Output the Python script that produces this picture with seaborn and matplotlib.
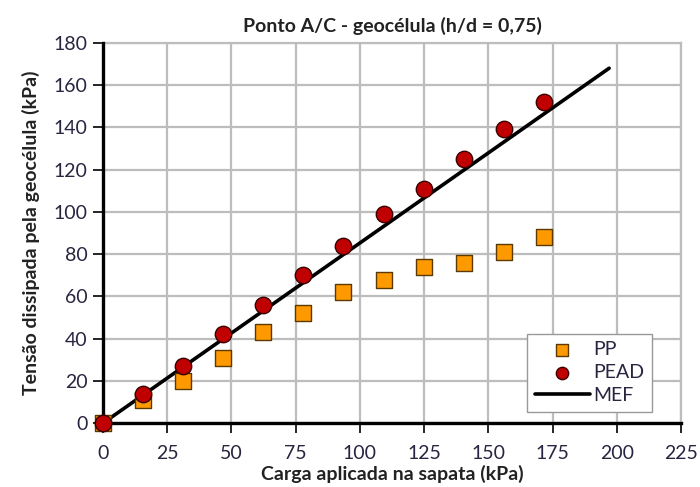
import matplotlib
matplotlib.use("Agg")
import matplotlib.pyplot as plt
import seaborn as sns
import pandas as pd

# Applied load on the footing (kPa)
carga = [0, 15.6, 31.2, 46.8, 62.4, 78.0, 93.6, 109.2, 124.8, 140.4, 156.0, 171.6]
# Stress dissipated by the geocell (kPa)
pp = [0, 11, 20, 31, 43, 52, 62, 68, 74, 76, 81, 88]
pead = [0, 14, 27, 42, 56, 70, 84, 99, 111, 125, 139, 152]
# Finite element model line
mef_x = [0, 197]
mef_y = [0, 168]

x_ticks = [0, 25, 50, 75, 100, 125, 150, 175, 200, 225]
y_ticks = [0, 20, 40, 60, 80, 100, 120, 140, 160, 180]

sns.set_theme(style="white")
plt.rcParams["font.family"] = ["Lato", "DejaVu Sans"]

df = pd.DataFrame({"carga": carga, "PP": pp, "PEAD": pead})
df_mef = pd.DataFrame({"x": mef_x, "y": mef_y})

fig = plt.figure(figsize=(7.0, 4.87), dpi=100)
ax = fig.add_axes([0.147, 0.131, 0.826, 0.781])

sns.lineplot(data=df_mef, x="x", y="y", ax=ax, color="black", lw=2.6,
             label="MEF", zorder=3)
sns.scatterplot(data=df, x="carga", y="PP", ax=ax, marker="s", s=140,
                color="#FF9900", edgecolor="#5a3a00", linewidth=1.0,
                label="PP", zorder=7, clip_on=False)
sns.scatterplot(data=df, x="carga", y="PEAD", ax=ax, marker="o", s=140,
                color="#C00000", edgecolor="#3a0000", linewidth=1.0,
                label="PEAD", zorder=8, clip_on=False)

ax.set_xlim(0, 225)
ax.set_ylim(0, 180)
ax.set_xticks(x_ticks)
ax.set_yticks(y_ticks)
ax.grid(True, color="#bdbdbd", lw=1.6)
ax.set_axisbelow(True)

for side in ("top", "right"):
    ax.spines[side].set_color("#bdbdbd")
    ax.spines[side].set_linewidth(1.6)
for side in ("left", "bottom"):
    ax.spines[side].set_color("black")
    ax.spines[side].set_linewidth(2.4)
    ax.spines[side].set_zorder(6)

ax.tick_params(axis="both", which="major", direction="out", length=7,
               width=1.2, color="black", labelsize=14, labelcolor="#2a2440",
               bottom=True, left=True, pad=4)
ax.tick_params(axis="x", pad=9)

ax.set_xlabel("Carga aplicada na sapata (kPa)", fontsize=14,
              fontweight="bold", color="#222222", labelpad=2)
ax.set_ylabel("Tensão dissipada pela geocélula (kPa)", fontsize=14,
              fontweight="bold", color="#222222", labelpad=10)
ax.set_title("Ponto A/C - geocélula (h/d = 0,75)", fontsize=14,
             fontweight="bold", color="#222222", pad=8)

handles, labels = ax.get_legend_handles_labels()
order = [labels.index(k) for k in ("PP", "PEAD", "MEF")]
leg = ax.legend([handles[i] for i in order], [labels[i] for i in order],
                loc="lower right", bbox_to_anchor=(0.95, 0.03),
                fontsize=14, frameon=True, fancybox=False,
                edgecolor="#999999", framealpha=1, borderpad=0.4,
                handlelength=2.8, labelspacing=0.3, handletextpad=0.2,
                borderaxespad=0.0, markerscale=0.75)
for t in leg.get_texts():
    t.set_color("#2a2440")
leg.set_zorder(10)

fig.savefig("out.png", dpi=100, facecolor="white")
